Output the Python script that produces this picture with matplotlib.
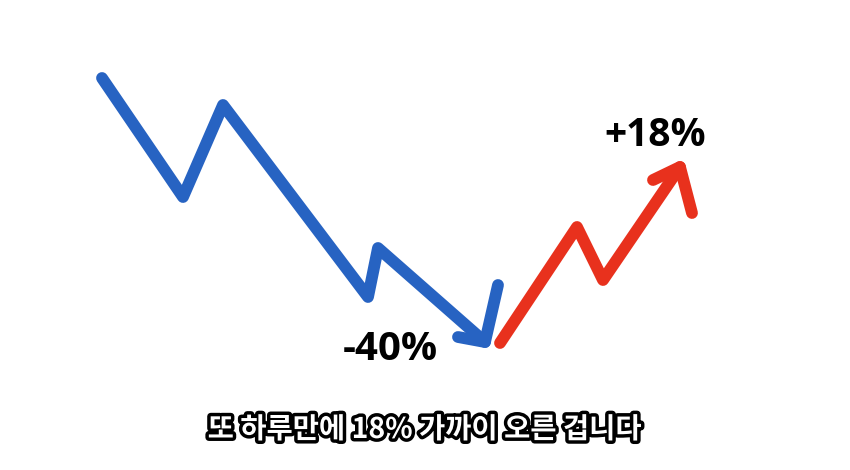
import matplotlib.pyplot as plt
import matplotlib.patheffects as pe

# hand-drawn path points (pixel coordinates of the picture)
blue_x = [102, 183, 223, 368, 378, 485]
blue_y = [78, 197, 105, 297, 248, 342]
blue_head_x = [498, 485, 458]
blue_head_y = [285, 342, 337]

red_x = [500, 577, 603, 680]
red_y = [343, 227, 280, 167]
red_head_x = [653, 680, 692]
red_head_y = [180, 167, 213]

down_label = "-40%"
up_label = "+18%"
caption = "또 하루만에 18% 가까이 오른 겁니다"

blue = '#2763c2'
red = '#e8311d'

fig = plt.figure(figsize=(8.5, 4.7), dpi=100)
ax = fig.add_axes([0, 0, 1, 1])
ax.set_xlim(0, 850)
ax.set_ylim(470, 0)
ax.axis('off')

style = dict(linewidth=8.5, solid_capstyle='round', solid_joinstyle='round')
ax.plot(blue_x, blue_y, color=blue, **style)
ax.plot(blue_head_x, blue_head_y, color=blue, **style)
ax.plot(red_x, red_y, color=red, **style)
ax.plot(red_head_x, red_head_y, color=red, **style)

ax.text(390, 349, down_label, fontsize=29, fontweight='bold', family='Open Sans',
        ha='center', va='center', color='black')
ax.text(655, 135, up_label, fontsize=28, fontweight='bold', family='Open Sans',
        ha='center', va='center', color='black')

ax.text(425, 430, caption, fontsize=20.5, fontweight='heavy',
        family=['Noto Sans CJK KR', 'DejaVu Sans'], ha='center', va='center',
        color='white',
        path_effects=[pe.withStroke(linewidth=5, foreground='black')])

fig.savefig('out.png', dpi=100)
